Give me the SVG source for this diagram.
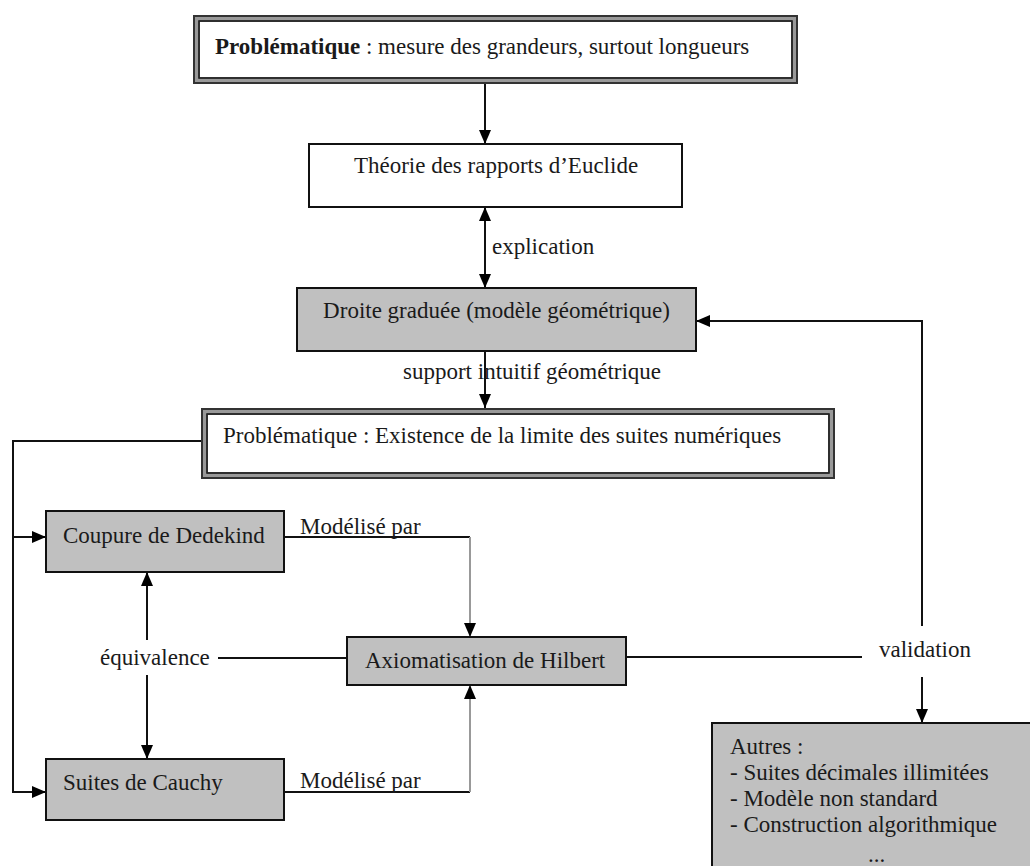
<svg xmlns="http://www.w3.org/2000/svg" width="1030" height="866" viewBox="0 0 1030 866">
<style>
text{font-family:"Liberation Serif","Times New Roman",serif;font-size:23px;fill:#1a1a1a}
.b{font-weight:bold}
.box{fill:#fff;stroke:#111;stroke-width:2}
.gbox{fill:#c0c0c0;stroke:#111;stroke-width:2}
.o{fill:none;stroke:#333;stroke-width:2}
.m{fill:none;stroke:#999;stroke-width:3}
.i{fill:#fff;stroke:#222;stroke-width:1.5}
.ln{fill:none;stroke:#111;stroke-width:2}
.gl{fill:none;stroke:#999;stroke-width:2}
</style>
<defs>
<marker id="ah" markerUnits="userSpaceOnUse" markerWidth="15" markerHeight="15" viewBox="0 0 15 15" refX="14" refY="7.5" orient="auto-start-reverse">
<path d="M0,1.5 L14,7.5 L0,13.5 Z" fill="#000"/>
</marker>
</defs>

<g id="connectors">
<line class="ln" x1="485" y1="84" x2="485" y2="144" marker-end="url(#ah)"/>
<line class="ln" x1="485" y1="207" x2="485" y2="288" marker-start="url(#ah)" marker-end="url(#ah)"/>
<line class="ln" x1="485" y1="351" x2="485" y2="408" marker-end="url(#ah)"/>
<polyline class="ln" points="201,441 13,441 13,792 46,792" marker-end="url(#ah)"/>
<line class="ln" x1="13" y1="537" x2="46" y2="537" marker-end="url(#ah)"/>
<polyline class="ln" points="284,537 470,537"/>
<line class="gl" x1="470" y1="537" x2="470" y2="637" marker-end="url(#ah)"/>
<polyline class="ln" points="284,792 470,792"/>
<line class="gl" x1="470" y1="792" x2="470" y2="685" marker-end="url(#ah)"/>
<line class="ln" x1="147" y1="640" x2="147" y2="572" marker-end="url(#ah)"/>
<line class="ln" x1="147" y1="675" x2="147" y2="759" marker-end="url(#ah)"/>
<line class="ln" x1="218" y1="658" x2="347" y2="658"/>
<line class="ln" x1="626" y1="657" x2="862" y2="657"/>
<polyline class="ln" points="922,626 922,321 696,321" marker-end="url(#ah)"/>
<line class="ln" x1="922" y1="677" x2="922" y2="723" marker-end="url(#ah)"/>
<text x="492" y="254">explication</text>
<text x="403" y="379">support intuitif géométrique</text>
<text x="300" y="534">Modélisé par</text>
<text x="300" y="788">Modélisé par</text>
<text x="100" y="665">équivalence</text>
<text x="879" y="657">validation</text>
</g>

<g id="prob1">
<rect x="199" y="21" width="593" height="57" class="i"/>
<rect x="196.5" y="18.5" width="598" height="62" class="m"/>
<rect x="194" y="16" width="603" height="67" class="o"/>
<rect x="199" y="21" width="593" height="57" fill="none" stroke="#222" stroke-width="1.5"/>
<text x="215" y="54"><tspan class="b">Problématique</tspan> : mesure des grandeurs, surtout longueurs</text>
</g>

<g id="euclide">
<rect x="309" y="144" width="373" height="63" class="box"/>
<text x="496" y="173" text-anchor="middle">Théorie des rapports d’Euclide</text>
</g>

<g id="droite">
<rect x="297" y="288" width="399" height="63" class="gbox"/>
<text x="496.5" y="318" text-anchor="middle">Droite graduée (modèle géométrique)</text>
</g>

<g id="prob2">
<rect x="207" y="414" width="622" height="59" class="i"/>
<rect x="204.5" y="411.5" width="627" height="64" class="m"/>
<rect x="202" y="409" width="632" height="69" class="o"/>
<rect x="207" y="414" width="622" height="59" fill="none" stroke="#222" stroke-width="1.5"/>
<text x="223" y="443">Problématique : Existence de la limite des suites numériques</text>
</g>

<g id="dedekind">
<rect x="46" y="511" width="238" height="61" class="gbox"/>
<text x="63" y="543">Coupure de Dedekind</text>
</g>

<g id="hilbert">
<rect x="347" y="637" width="279" height="48" class="gbox"/>
<text x="365" y="668">Axiomatisation de Hilbert</text>
</g>

<g id="cauchy">
<rect x="46" y="759" width="238" height="61" class="gbox"/>
<text x="63" y="790">Suites de Cauchy</text>
</g>

<g id="autres">
<rect x="712" y="723" width="330" height="160" class="gbox"/>
<text x="730" y="754">Autres :</text>
<text x="730" y="780">- Suites décimales illimitées</text>
<text x="730" y="806">- Modèle non standard</text>
<text x="730" y="832">- Construction algorithmique</text>
<text x="868" y="862">...</text>
</g>
</svg>
